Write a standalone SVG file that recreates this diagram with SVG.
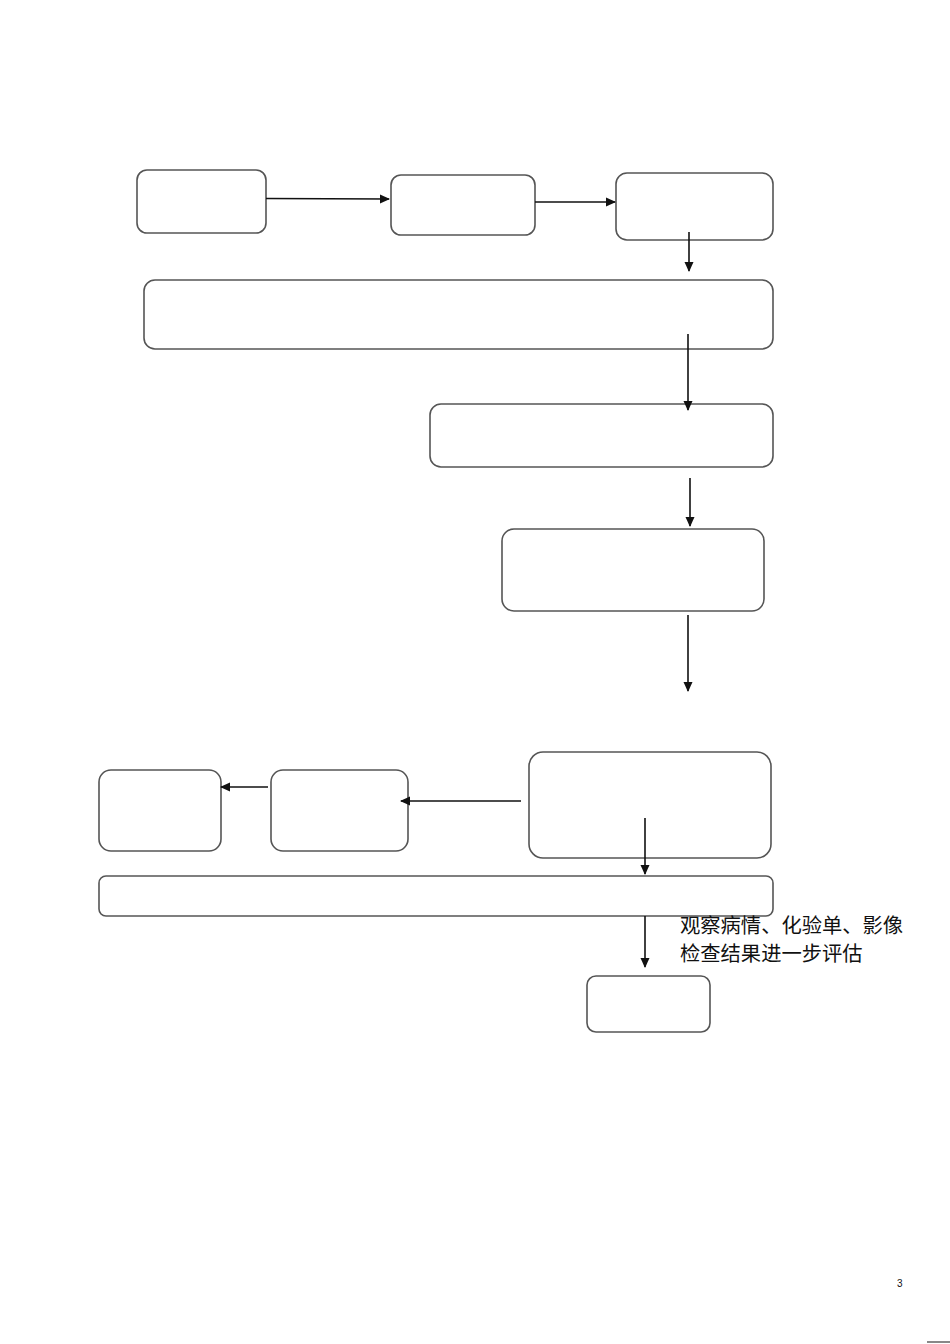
<svg xmlns="http://www.w3.org/2000/svg" width="950" height="1344" viewBox="0 0 950 1344">
<defs>
<style>
.box{fill:#fff;stroke:#555;stroke-width:1.6}
.ln{stroke:#111;stroke-width:1.6;fill:none}
.t{font-family:"Liberation Sans","Noto Sans CJK SC",sans-serif;fill:#111}
</style>
<marker id="ah" markerWidth="10" markerHeight="10" refX="9" refY="5" orient="auto" markerUnits="userSpaceOnUse">
<path d="M0,0.5 L10,5 L0,9.5 Z" fill="#111"/>
</marker>
</defs>
<rect width="950" height="1344" fill="#fff"/>
<g id="n1"><rect class="box" x="137" y="170" width="129" height="63" rx="10"/></g>
<g id="n2"><rect class="box" x="391" y="175" width="144" height="60" rx="10"/></g>
<g id="n3"><rect class="box" x="616" y="173" width="157" height="67" rx="11"/></g>
<g id="n4"><rect class="box" x="144" y="280" width="629" height="69" rx="11"/></g>
<g id="n5"><rect class="box" x="430" y="404" width="343" height="63" rx="11"/></g>
<g id="n6"><rect class="box" x="502" y="529" width="262" height="82" rx="12"/></g>
<g id="n7"><rect class="box" x="529" y="752" width="242" height="106" rx="14"/></g>
<g id="n8"><rect class="box" x="271" y="770" width="137" height="81" rx="12"/></g>
<g id="n9"><rect class="box" x="99" y="770" width="122" height="81" rx="12"/></g>
<g id="n10"><rect class="box" x="99" y="876" width="674" height="40" rx="7"/></g>
<g id="n11"><rect class="box" x="587" y="976" width="123" height="56" rx="9"/></g>
<g id="connectors">
<path class="ln" d="M266,198.5 L389,199" marker-end="url(#ah)"/>
<path class="ln" d="M535,202 L615,202" marker-end="url(#ah)"/>
<path class="ln" d="M689,232 L689,271" marker-end="url(#ah)"/>
<path class="ln" d="M688,334 L688,410" marker-end="url(#ah)"/>
<path class="ln" d="M690,478 L690,526" marker-end="url(#ah)"/>
<path class="ln" d="M688,615 L688,691" marker-end="url(#ah)"/>
<path class="ln" d="M521,801 L401,801" marker-end="url(#ah)"/>
<path class="ln" d="M268,787 L221,787" marker-end="url(#ah)"/>
<path class="ln" d="M645,818 L645,874" marker-end="url(#ah)"/>
<path class="ln" d="M645,916 L645,967" marker-end="url(#ah)"/>
</g>
<g id="label">
<text class="t" x="680" y="933" font-size="20.3">观察病情、化验单、影像</text>
<text class="t" x="680" y="961" font-size="20.3">检查结果进一步评估</text>
</g>
<text class="t" x="897" y="1287" font-size="10">3</text>
<line x1="927" y1="1342" x2="950" y2="1342" stroke="#888" stroke-width="2"/>
</svg>
